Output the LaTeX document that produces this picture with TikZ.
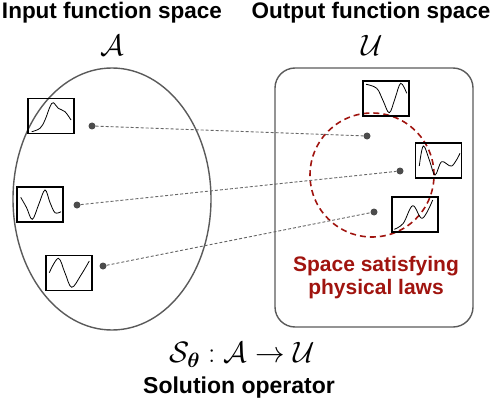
\RequirePackage{fix-cm}
\documentclass[tikz,border=0pt]{standalone}
\usepackage{amsmath}
\usepackage{fontspec}
\newfontfamily\labelfont{Liberation Sans}
\definecolor{lawred}{HTML}{A0140F}
\definecolor{rimgray}{HTML}{5A5A5A}
\tikzset{
  dot/.style={circle, fill=black!70, inner sep=0pt, minimum size=7pt},
  link/.style={black!60, line width=0.9pt, dash pattern=on 3pt off 2pt},
  fbox/.style={draw=black, line width=1.2pt, inner sep=0pt, minimum width=46pt, minimum height=35pt},
  wave/.style={line width=0.8pt},
  title/.style={font=\labelfont\bfseries\fontsize{22.5}{25}\selectfont, inner sep=1pt},
  mathlbl/.style={font=\fontsize{29.5}{32}\selectfont}
}

\begin{document}
\begin{tikzpicture}[x=1pt, y=-1pt]
		%%%%% START %%%%%
		\useasboundingbox (0,0) rectangle (494,406);
		
		% headings
		\node[title] (intitle) at (112,13) {Input function space};
		\node[title] (outtitle) at (371,13) {Output function space};
		\node[mathlbl] (aset) at (112,45) {$\mathcal{A}$};
		\node[mathlbl] (uset) at (372,45) {$\mathcal{U}$};
		
		% the two spaces
		\draw[rimgray, line width=1.4pt] (112,199) ellipse [x radius=99pt, y radius=131pt];
		\draw[rimgray, line width=1.4pt, rounded corners=20pt] (275,68) rectangle (473,327);
		\draw[lawred, line width=1.6pt, dash pattern=on 6pt off 4pt] (372,175) circle (62pt);
		\node[font=\labelfont\bfseries\fontsize{21}{23}\selectfont, text=lawred, align=center] (lawtext) at (376,278) {Space satisfying\\physical laws};
		
		% input functions
		\node[fbox] (fa1) at (51,116) {};
		\draw[wave, shift={(fa1.center)}] plot[smooth, tension=0.6] coordinates {(-19.3,15.7) (-11,12.3) (-6,4) (-1,-9.3) (2.3,-13.3) (7.3,-7.7) (14,-4.3) (20,4)};
		\node[fbox] (fa2) at (40,204.5) {};
		\draw[wave, shift={(fa2.center)}] plot[smooth, tension=0.6] coordinates {(-19.3,-7.2) (-13.5,3) (-7.7,14.8) (-1.3,0) (5,-14.5) (10,-2) (15,8.2) (21,7.2)};
		\node[fbox] (fa3) at (69,273) {};
		\draw[wave, shift={(fa3.center)}] plot[smooth, tension=0.6] coordinates {(-19.7,-0.3) (-10.7,-14.7) (-4,0) (2.7,14.3) (12,2) (20.3,-12)};
		
		% output functions
		\node[fbox] (fu1) at (386,98.5) {};
		\draw[wave, shift={(fu1.center)}] plot[smooth, tension=0.6] coordinates {(-20,-14.2) (-9.3,-10.2) (-3,2) (3.3,14.2) (9,0) (14.7,-15.2) (20.7,-5.2)};
		\node[fbox, line width=1.8pt] (fu2) at (438.5,160.5) {};
		\draw[wave, shift={(fu2.center)}] plot[smooth, tension=0.6] coordinates {(-19.2,5.5) (-15.2,-14.5) (-9,0) (-3.5,14.5) (3.2,1.2) (13.2,5.5) (21.5,-7.2)};
		\node[fbox] (fu3) at (415,214.5) {};
		\draw[wave, shift={(fu3.center)}] plot[smooth, tension=0.6] coordinates {(-20.7,14.8) (-11.7,8.8) (-2.3,-8.8) (7.3,3.8) (17.7,-14.5)};
		
		% sample points and the map between them
		\node[dot] (a1) at (92,126) {};
		\node[dot] (a2) at (77,205) {};
		\node[dot] (a3) at (103,266) {};
		\node[dot] (u1) at (367,136) {};
		\node[dot] (u2) at (400,171) {};
		\node[dot] (u3) at (374,212) {};
		\draw[link] (a1) -- (u1);
		\draw[link] (a2) -- (u2);
		\draw[link] (a3) -- (u3);
		
		% operator
		\node[mathlbl] (op) at (242,355) {$\mathcal{S}_{\boldsymbol{\theta}} : \mathcal{A} \to \mathcal{U}$};
		\node[font=\labelfont\bfseries\fontsize{23}{25}\selectfont] (optext) at (239,388) {Solution operator};
		
		%%%%% END %%%%%
\end{tikzpicture}
\end{document}
